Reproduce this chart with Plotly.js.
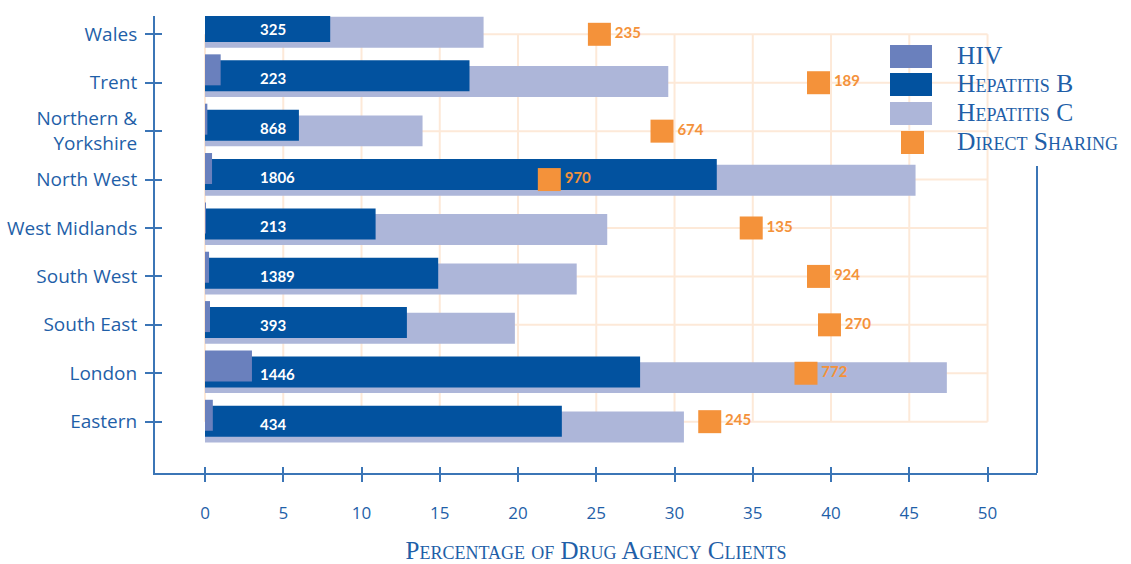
<!DOCTYPE html>
<html>
<head>
<meta charset="utf-8">
<script src="https://cdn.plot.ly/plotly-3.0.1.min.js"></script>
<style>html,body{margin:0;padding:0;background:#fff;}#chart{width:1131px;height:564px;}</style>
</head>
<body>
<div id="chart"></div>
<script>
// ---- data ----
const categories = ['Wales', 'Trent', 'Northern &<br>Yorkshire', 'North West', 'West Midlands', 'South West', 'South East', 'London', 'Eastern'];
const hiv = [0, 1.0, 0.15, 0.45, 0.05, 0.26, 0.32, 3.0, 0.5];
const hepatitisB = [8.0, 16.9, 6.0, 32.7, 10.9, 14.9, 12.9, 27.8, 22.8];
const hepatitisC = [17.8, 29.6, 13.9, 45.4, 25.7, 23.75, 19.8, 47.4, 30.6];
const directSharing = [25.2, 39.2, 29.2, 22.0, 34.9, 39.2, 39.9, 38.4, 32.25];
const clientLabels = ['325', '223', '868', '1806', '213', '1389', '393', '1446', '434'];
const sharingLabels = ['235', '189', '674', '970', '135', '924', '270', '772', '245'];
const xTicks = [0, 5, 10, 15, 20, 25, 30, 35, 40, 45, 50];
const legendNames = ['HIV', 'Hepatitis B', 'Hepatitis C', 'Direct Sharing'];

// ---- styles ----
const C_HIV = '#6a80bd', C_B = '#02529f', C_C = '#adb6d9', C_DS = '#f4923a';
const AXIS = '#3b75b6', TEXT = '#1f5fa8', GRID = '#fde9d8';
const SANS = 'Open Sans', SERIF = 'Liberation Serif', NUM = 'Lato';
const XR = [-3.195, 53.16];
const YR = [9.06, -0.378];         // tick / marker scale
const YR_BARS = [9.0476, -0.2128]; // bar block scale (slightly wider spacing in the original)
const BAR_W = 0.628;
const M = {l: 155, r: 94, t: 16, b: 91};
const W = 1131, H = 564;
const PW = W - M.l - M.r, PH = H - M.t - M.b;
const px = x => (x - M.l) / PW;
const py = y => (H - M.b - y) / PH;

function barTrace(vals, color, offset, name) {
  return {type: 'bar', orientation: 'h', x: vals, y: categories, name: name, yaxis: 'y2',
    marker: {color: color, line: {width: 0}}, width: BAR_W, offset: offset,
    hoverinfo: 'x+name', showlegend: false, cliponaxis: false};
}

const traces = [
  {type: 'scatter', x: [], y: [], showlegend: false, hoverinfo: 'skip'},
  barTrace(hepatitisC, C_C, -0.199, legendNames[2]),
  barTrace(hepatitisB, C_B, -0.314, legendNames[1]),
  barTrace(hiv, C_HIV, -0.436, legendNames[0]),
  {type: 'scatter', x: [], y: [], xaxis: 'x2', yaxis: 'y3', showlegend: false, hoverinfo: 'skip'},
  {type: 'scatter', mode: 'markers+text', x: directSharing, y: categories, name: legendNames[3], yaxis: 'y4',
    text: sharingLabels, textposition: 'middle right',
    marker: {symbol: 'square', size: 23, color: C_DS, line: {width: 0}},
    textfont: {family: NUM, size: 15, color: C_DS, weight: 700},
    showlegend: false, cliponaxis: false}
];

// grid drawn from tick values and categories
const shapes = [];
xTicks.forEach(v => shapes.push({type: 'line', xref: 'x', yref: 'y', x0: v, x1: v, y0: 0, y1: categories.length - 1,
  line: {color: GRID, width: 2}, layer: 'below'}));
categories.forEach((c, i) => shapes.push({type: 'line', xref: 'x', yref: 'y', x0: xTicks[0], x1: xTicks[xTicks.length - 1], y0: i, y1: i,
  line: {color: GRID, width: 2}, layer: 'below'}));
// right frame line
shapes.push({type: 'line', xref: 'paper', yref: 'paper', x0: 1, x1: 1, y0: 0, y1: py(166), line: {color: AXIS, width: 2}});

// manual legend
const legendColors = [C_HIV, C_B, C_C, C_DS];
const legendBoxes = [[890, 932, 45, 68], [890, 932, 73, 96], [890, 932, 102, 125], [901, 924, 131, 154]];
const annotations = [];
legendNames.forEach((n, i) => {
  const b = legendBoxes[i];
  shapes.push({type: 'rect', xref: 'paper', yref: 'paper', x0: px(b[0]), x1: px(b[1]), y0: py(b[3]), y1: py(b[2]),
    fillcolor: legendColors[i], line: {width: 0}});
  annotations.push({xref: 'paper', yref: 'paper', x: px(955), y: py((b[2] + b[3]) / 2 - 1.5), xanchor: 'left', yanchor: 'middle',
    text: n, showarrow: false, font: {family: SERIF, size: 25.5, color: TEXT, variant: 'small-caps'}});
});
// client count labels inside the Hepatitis B bars
const LABEL_X = 3.4;
clientLabels.forEach((t, i) => annotations.push({x: LABEL_X, y: i, xref: 'x', yref: 'y2', xanchor: 'left', yanchor: 'middle',
  yshift: -2.5, text: t, showarrow: false, font: {family: NUM, size: 15, color: '#ffffff', weight: 700}}));

const hidden = {showticklabels: false, ticks: '', showline: false, showgrid: false, zeroline: false};
const layout = {
  width: W, height: H, margin: M,
  paper_bgcolor: '#ffffff', plot_bgcolor: '#ffffff',
  barmode: 'overlay', showlegend: false, hovermode: 'closest',
  xaxis: {range: XR, tickmode: 'array', tickvals: xTicks, ticks: 'outside', ticklen: 7, tickwidth: 2, tickcolor: AXIS,
    showline: true, linecolor: AXIS, linewidth: 2, showgrid: false, zeroline: false,
    tickfont: {family: SANS, size: 17, color: TEXT}, ticklabelstandoff: 17, automargin: false,
    title: {text: 'Percentage of Drug Agency Clients', standoff: 19,
      font: {family: SERIF, size: 25, color: TEXT, variant: 'small-caps'}}},
  yaxis: {type: 'category', categoryarray: categories, categoryorder: 'array', range: YR,
    ticks: 'outside', ticklen: 8, tickwidth: 2, tickcolor: AXIS,
    showline: true, linecolor: AXIS, linewidth: 2, showgrid: false, zeroline: false,
    tickfont: {family: SANS, size: 19, color: TEXT}, ticklabelstandoff: 4, automargin: false},
  yaxis2: Object.assign({overlaying: 'y', type: 'category', categoryarray: categories, categoryorder: 'array', range: YR_BARS}, hidden),
  xaxis2: {overlaying: 'x', side: 'bottom', range: XR, tickmode: 'array', tickvals: xTicks, ticks: 'inside', ticklen: 6,
    tickwidth: 2, tickcolor: AXIS, showticklabels: false, showline: false, showgrid: false, zeroline: false},
  yaxis3: {overlaying: 'y', side: 'left', range: YR, tickmode: 'array', tickvals: categories.map((c, i) => i), ticks: 'inside',
    ticklen: 7, tickwidth: 2, tickcolor: AXIS, showticklabels: false, showline: false, showgrid: false, zeroline: false},
  yaxis4: Object.assign({overlaying: 'y', type: 'category', categoryarray: categories, categoryorder: 'array', range: YR}, hidden),
  shapes: shapes, annotations: annotations
};

Plotly.newPlot('chart', traces, layout, {displayModeBar: false, responsive: false});
</script>
</body>
</html>
